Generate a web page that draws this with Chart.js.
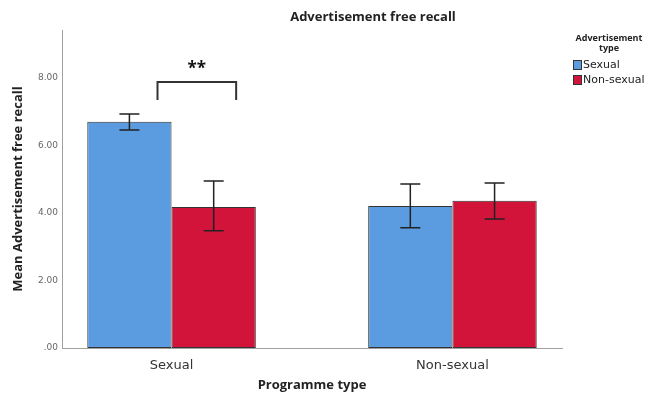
<!DOCTYPE html>
<html>
<head>
<meta charset="utf-8">
<script src="https://cdn.jsdelivr.net/npm/chart.js@4.4.1/dist/chart.umd.min.js"></script>
<style>
  body { margin: 0; background: #fff; }
  #wrap { width: 648px; height: 398px; }
</style>
</head>
<body>
<div id="wrap"><canvas id="recallChart" width="648" height="398"></canvas></div>
<script>
// Data
const programmeTypes = ['Sexual', 'Non-sexual'];
const adTypes = ['Sexual', 'Non-sexual'];
const sexualAdMeans = [6.70, 4.21];
const sexualAdLower = [6.46, 3.56];
const sexualAdUpper = [6.93, 4.86];
const nonSexualAdMeans = [4.18, 4.36];
const nonSexualAdLower = [3.47, 3.82];
const nonSexualAdUpper = [4.95, 4.89];
const yTicks = [0, 2, 4, 6, 8];
// significance bracket, in data units (x = programme index, y = recall)
const sigBracket = { from: -0.05, to: 0.23, top: 7.88, bottom: 7.35, label: '**' };

const adColors = ['#5b9be0', '#d2143a'];
const textFont = "'DejaVu Sans', sans-serif";
const boldFont = "'Open Sans', sans-serif";

const toPoints = arr => arr.map((v, i) => ({ x: i, y: v }));

const datasets = [
    { label: adTypes[0], data: toPoints(sexualAdMeans), lower: sexualAdLower, upper: sexualAdUpper },
    { label: adTypes[1], data: toPoints(nonSexualAdMeans), lower: nonSexualAdLower, upper: nonSexualAdUpper }
].map((ds, i) => Object.assign(ds, {
    backgroundColor: adColors[i],
    borderColor: '#333',
    borderWidth: 1,
    borderSkipped: false,
    barPercentage: 1.0,
    categoryPercentage: 0.6
}));

// error bars + significance bracket
const errorBars = {
    id: 'errorBars',
    afterDatasetsDraw(chart) {
        const ctx = chart.ctx;
        const y = chart.scales.y;
        const x = chart.scales.x;
        ctx.save();
        ctx.strokeStyle = '#222';
        ctx.lineWidth = 1.5;
        chart.data.datasets.forEach((ds, di) => {
            chart.getDatasetMeta(di).data.forEach((bar, i) => {
                const top = y.getPixelForValue(ds.upper[i]);
                const bot = y.getPixelForValue(ds.lower[i]);
                const cap = 10;
                ctx.beginPath();
                ctx.moveTo(bar.x, top); ctx.lineTo(bar.x, bot);
                ctx.moveTo(bar.x - cap, top); ctx.lineTo(bar.x + cap, top);
                ctx.moveTo(bar.x - cap, bot); ctx.lineTo(bar.x + cap, bot);
                ctx.stroke();
            });
        });

        // bracket
        const x1 = x.getPixelForValue(sigBracket.from);
        const x2 = x.getPixelForValue(sigBracket.to);
        const yt = y.getPixelForValue(sigBracket.top);
        const yb = y.getPixelForValue(sigBracket.bottom);
        ctx.strokeStyle = '#333';
        ctx.lineWidth = 2;
        ctx.beginPath();
        ctx.moveTo(x1, yb); ctx.lineTo(x1, yt); ctx.lineTo(x2, yt); ctx.lineTo(x2, yb);
        ctx.stroke();
        ctx.fillStyle = '#111';
        ctx.font = "bold 17px " + boldFont;
        ctx.textAlign = 'center';
        ctx.textBaseline = 'middle';
        ctx.fillText(sigBracket.label, (x1 + x2) / 2, yt - 13);
        ctx.restore();
    }
};

// title and legend placed like the SPSS output
const chartText = {
    id: 'chartText',
    afterDraw(chart) {
        const ctx = chart.ctx;
        const area = chart.chartArea;
        ctx.save();
        ctx.fillStyle = '#222';
        ctx.textBaseline = 'middle';
        ctx.textAlign = 'center';
        ctx.font = "bold 13px " + boldFont;
        ctx.fillText('Advertisement free recall', 373, 17);

        // legend
        const lx = area.right + 11;
        ctx.font = "bold 9px " + boldFont;
        ctx.fillText('Advertisement', area.right + 47, 38);
        ctx.fillText('type', area.right + 47, 48);
        ctx.textAlign = 'left';
        ctx.font = "11px " + textFont;
        adTypes.forEach((name, i) => {
            const cy = 65 + i * 15;
            ctx.fillStyle = adColors[i];
            ctx.fillRect(lx, cy - 5, 9, 10);
            ctx.strokeStyle = '#333';
            ctx.lineWidth = 1;
            ctx.strokeRect(lx + 0.5, cy - 4.5, 8, 9);
            ctx.fillStyle = '#222';
            ctx.fillText(name, lx + 10, cy);
        });
        ctx.restore();
    }
};

new Chart(document.getElementById('recallChart'), {
    type: 'bar',
    data: { datasets: datasets },
    plugins: [errorBars, chartText],
    options: {
        responsive: false,
        devicePixelRatio: 1,
        animation: false,
        layout: { padding: { top: 30, right: 86, bottom: 0, left: 0 } },
        plugins: {
            legend: { display: false },
            title: { display: false },
            tooltip: { enabled: false }
        },
        scales: {
            x: {
                type: 'linear',
                offset: false,
                min: -0.39,
                max: 1.39,
                grid: { display: false, drawTicks: false },
                border: { display: true, color: '#a0a0a0', width: 1 },
                afterBuildTicks: scale => { scale.ticks = programmeTypes.map((_, i) => ({ value: i })); },
                afterFit: scale => { scale.height = 50; },
                ticks: {
                    padding: 10,
                    color: '#333',
                    font: { family: textFont, size: 13 },
                    callback: v => programmeTypes[v]
                },
                title: {
                    display: true,
                    text: 'Programme type',
                    color: '#222',
                    font: { family: boldFont, size: 13, weight: 'bold' },
                    padding: { top: 0, bottom: 5 }
                }
            },
            y: {
                min: 0,
                max: 9.42,
                grid: { display: false, drawTicks: false },
                border: { display: true, color: '#a0a0a0', width: 1 },
                afterBuildTicks: scale => { scale.ticks = yTicks.map(v => ({ value: v })); },
                afterFit: scale => { scale.width = 62; },
                ticks: {
                    padding: 4,
                    color: '#666',
                    font: { family: textFont, size: 9 },
                    callback: v => v === 0 ? '.00' : v.toFixed(2)
                },
                title: {
                    display: true,
                    text: 'Mean Advertisement free recall',
                    color: '#222',
                    font: { family: boldFont, size: 13, weight: 'bold' },
                    padding: { top: 10, bottom: 0 }
                }
            }
        }
    }
});
</script>
</body>
</html>
